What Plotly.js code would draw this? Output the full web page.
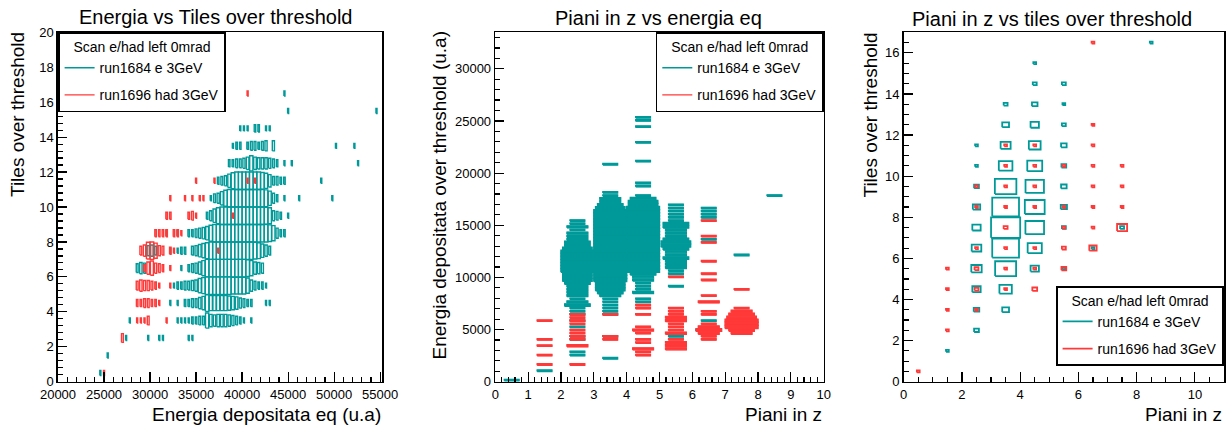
<!DOCTYPE html>
<html><head><meta charset="utf-8">
<script src="https://cdn.plot.ly/plotly-3.0.1.min.js"></script>
<style>html,body{margin:0;padding:0;background:#fff}#chart{width:1231px;height:425px}</style>
</head><body><div id="chart"></div>
<script>
// ---------- Panel 1: Energia vs Tiles over threshold (x: energy bins of 400, y: tiles rows) ----------
const p1_rowsE = [0.5,1.5,2.5,3.5,4.5,5.5,6.5,7.5,8.5,9.5,10.5,11.5,12.5,13.5,14.5,15.5,16.5];
const p1_xE = [
 [24600],
 [25400],
 [27400,29800,31000,31400,34200,34600],
 [27800,33000,33400,33800,34200,34600,35000,35400,35800,36200,36600,37000,37400,37800,38200,38600,39000,39400,39800,40200,41000],
 [32200,33000,33800,34200,34600,35000,35400,35800,36200,36600,37000,37400,37800,38200,38600,39000,39400,39800,40200,40600,41000,42600,43000],
 [32600,33000,33400,33800,34200,34600,35000,35400,35800,36200,36600,37000,37400,37800,38200,38600,39000,39400,39800,40200,40600,41000,41400,41800,42200,42600],
 [28600,29000,29400,33400,34200,34600,35000,35400,35800,36200,36600,37000,37400,37800,38200,38600,39000,39400,39800,40200,40600,41000,41400,41800,42200],
 [29800,30200,30600,32200,33000,33400,33800,34600,35000,35400,35800,36200,36600,37000,37400,37800,38200,38600,39000,39400,39800,40200,40600,41000,41400,41800,42200,42600,43000],
 [31800,33000,34200,34600,35000,35400,35800,36200,36600,37000,37400,37800,38200,38600,39000,39400,39800,40200,40600,41000,41400,41800,42200,42600,43000,43400,43800,44200,44600],
 [36200,36600,37000,37400,37800,38200,38600,39000,39400,39800,40200,40600,41000,41400,41800,42200,42600,43000,43400,43800,44200,45000],
 [36600,37000,37400,37800,38200,38600,39000,39400,39800,40200,40600,41000,41400,41800,42200,42600,43000,43400,43800,44600,46200,49800],
 [37400,37800,38200,38600,39000,39400,39800,40200,40600,41000,41400,41800,42200,42600,43000,43400,43800,44200,44600,48600],
 [38600,39000,39400,39800,40200,40600,41000,41400,41800,42200,42600,43000,43400,43800,44600,45400,52600],
 [39000,39400,39800,40600,41000,41400,41800,42200,42600,43400,50200,52200],
 [39800,40200,40600,41400,41800,42600,43000],
 [45000,54600],
 [44600]
];
const p1_nE = [
 [1],
 [1],
 [1,1,1,1,1,1],
 [1,1,1,1,1,2,2,3,3,9,6,5,6,6,6,5,4,3,2,1,1],
 [1,1,2,2,3,3,5,7,11,9,9,9,9,9,8,7,6,4,3,2,2,1,1],
 [1,2,2,3,3,4,5,8,10,12,12,12,12,12,12,12,11,11,11,11,9,5,3,2,2,1],
 [3,5,4,1,2,3,4,6,9,12,12,12,12,12,12,12,12,12,12,12,11,9,6,5,4],
 [4,5,3,1,1,2,2,3,4,6,8,10,12,12,12,12,12,12,12,12,12,12,12,12,11,10,7,5,3],
 [1,1,2,2,3,4,5,7,10,12,12,12,12,12,12,12,12,12,12,12,12,12,12,12,11,9,4,2,2],
 [2,4,7,10,12,12,12,12,12,12,12,12,12,12,12,12,11,10,4,3,2,1],
 [1,3,4,7,10,12,12,12,12,12,12,12,12,12,12,11,8,4,2,1,1,1],
 [2,3,4,7,10,12,12,12,12,12,12,12,11,9,6,3,3,2,2,1],
 [2,2,3,3,4,6,9,6,5,5,5,4,3,2,1,1,1],
 [1,2,2,2,3,3,2,3,4,4,1,1],
 [1,1,1,2,2,1,1],
 [1,1],
 [1]
];
const p1_rowsH = [0.5,2.5,3.5,4.5,5.5,6.5,7.5,8.5,9.5,10.5,11.5,16.5];
const p1_xH = [
 [25000],
 [27000],
 [28600,29000,29400,29800,31800],
 [28600,29000,29400,29800,30200,30600,31000],
 [28600,29000,29400,29800,30200,30600,31000,32200],
 [29400,29800,30200,30600,31000,31400,32200],
 [29000,29400,29800,30200,30600,31000,31400,32200,32600,37400],
 [30600,31000,31400,31800,32600,33000,33400],
 [31800,32200,34200,34600,35000,39000],
 [32200,33800,34600,35400,35800],
 [35000,37000,40600,41400],
 [40600]
];
const p1_nH = [
 [1],
 [3],
 [1,1,1,3,1],
 [2,2,3,3,2,2,1],
 [3,5,4,4,3,2,1,1],
 [2,6,8,4,3,2,1],
 [3,5,11,12,9,4,3,2,1,1],
 [2,2,2,2,2,2,1],
 [2,2,2,3,1,1],
 [1,1,1,1,1],
 [1,1,1,1],
 [1]
];

// ---------- Panel 2: Piani in z vs energia eq (x: planes, y: energy bins of 300) ----------
const p2_colE = [0.5,1.5,2.5,2.5,3.5,3.5,3.5,3.5,4.5,4.5,4.5,4.5,4.5,5.5,5.5,5.5,6.5,6.5,6.5,6.5,7.5,7.5,7.5,8.5];
const p2_y0E  = [150,1050,2550,4050,2250,4350,6450,20850,7650,18750,21150,22950,24450,4350,9150,10350,4950,5850,13650,15750,5250,6450,12150,17850];
const p2_nE = [
 [1],
 [1],
 [1,1],
 [1,1,0,0,1,0,1,0,1,1,1,3,2,1,2,2,2,2,3,4,4,4,5,5,5,5,5,5,5,4,3,3,2,2,2,1,2,1,1],
 [1],
 [1],
 [1,1,1,1,1,1,2,3,4,4,4,5,5,5,5,5,5,5,5,5,5,5,5,5,5,5,5,5,5,5,5,5,5,5,4,3,2,2,1,1],
 [1],
 [1,1,0,2,1,1,1,2,2,3,5,5,5,5,5,5,5,5,5,5,5,5,5,5,5,5,5,5,5,5,5,4,4,3,1],
 [1,1],
 [1],
 [1],
 [1,0,1,1],
 [1],
 [1],
 [1,1,2,2,2,3,2,2,3,4,4,3,2,2,2,3,3,1,1,1,1,1,1],
 [3,1],
 [1],
 [1],
 [1,1,1,1],
 [1],
 [1],
 [1],
 [1]
];
const p2_colH = [1.5,1.5,1.5,1.5,2.5,2.5,3.5,3.5,4.5,5.5,5.5,6.5,6.5,6.5,6.5,6.5,6.5,6.5,7.5,7.5];
const p2_y0H  = [1650,2550,3450,5850,1650,3450,4050,6450,2550,3150,10050,4050,8250,9750,10350,11550,13350,15450,4650,8850];
const p2_nH = [
 [1],
 [1],
 [1,0,1],
 [1],
 [1],
 [2,0,1,1,1,1,0,1,1,1,1],
 [1,1],
 [1],
 [1,1,2,0,1,1,0,1,2,1,0,0,0,1,0,1,1],
 [2,2,2,1,0,2,1,1,1,2,2,1,1,1],
 [1],
 [1,1,2,3,2,1,0,0,1,1,0,0,2],
 [1],
 [1],
 [1],
 [1],
 [1,0,1],
 [1],
 [2,3,5,5,5,4,3,2,1],
 [1]
];

// ---------- Panel 3: Piani in z vs tiles over threshold ----------
const p3_colE = [1.5,2.5,3.5,4.5,5.5,6.5,7.5,8.5];
const p3_yE = [
 [1.5],
 [2.5,3.5,4.5,5.5,6.5,7.5,8.5,9.5,10.5,11.5],
 [3.5,4.5,5.5,6.5,7.5,8.5,9.5,10.5,11.5,12.5,13.5],
 [5.5,6.5,7.5,8.5,9.5,10.5,11.5,12.5,13.5,14.5,15.5],
 [5.5,7.5,8.5,9.5,10.5,11.5,12.5,13.5,14.5],
 [6.5],
 [7.5],
 [16.5]
];
const p3_nE = [
 [1],
 [3,4,9,14,12,9,7,3,1,1],
 [6,20,57,93,110,93,60,24,13,6,2],
 [9,26,45,51,44,29,18,9,4,2,1],
 [1,2,5,4,3,4,2,1,2],
 [1],
 [2],
 [1]
];
const p3_colH = [0.5,1.5,2.5,3.5,4.5,5.5,6.5,7.5];
const p3_yH = [
 [0.5],
 [2.5,3.5,4.5,5.5],
 [3.5,4.5,5.5,6.5,8.5,9.5],
 [4.5,5.5,6.5,7.5,8.5,9.5,10.5,11.5],
 [4.5,5.5,6.5,8.5,9.5,10.5,11.5],
 [5.5,6.5,7.5,8.5,10.5],
 [6.5,7.5,8.5,9.5,10.5,11.5,12.5,16.5],
 [7.5,8.5,9.5,10.5]
];
const p3_nH = [
 [1],
 [1,1,1,1],
 [1,2,2,1,1,1],
 [1,1,1,2,1,1,1,1],
 [3,1,1,1,1,1,1],
 [3,2,1,1,1],
 [7,1,1,1,1,1,1,1],
 [13,1,1,1]
];

const legendTitle = 'Scan e/had left 0mrad';
const nameE = 'run1684 e 3GeV';
const nameH = 'run1696 had 3GeV';

// ---------- helpers ----------
const TEAL = '#009999', RED = '#ff3838';
const FONT = 'Liberation Sans, Arial, Helvetica, sans-serif';

function cellsRows(rows, xs, ns){const o=[];rows.forEach((r,i)=>xs[i].forEach((x,j)=>o.push([x,r,ns[i][j]])));return o;}
function cellsCols(cols, ys, ns){const o=[];cols.forEach((c,i)=>ys[i].forEach((y,j)=>o.push([c,y,ns[i][j]])));return o;}
function cellsSegs(cols, y0s, ns, bh){const o=[];cols.forEach((c,i)=>ns[i].forEach((n,j)=>{if(n>0)o.push([c,y0s[i]+j*bh,n]);}));return o;}
function maxN(a,b){let m=0;a.concat(b).forEach(c=>{if(c[2]>m)m=c[2];});return m;}
function rects(cells,nmax,bw,bh){
  const X=[],Y=[];
  cells.forEach(([cx,cy,n])=>{
    if(n<=0)return;
    const s=Math.sqrt(n/nmax), hw=bw*s/2, hh=bh*s/2;
    X.push(cx-hw,cx+hw,cx+hw,cx-hw,cx-hw,null);
    Y.push(cy-hh,cy-hh,cy+hh,cy+hh,cy-hh,null);
  });
  return {X,Y};
}

const BW1=400, BH1=1, BW2=1, BH2=300, BW3=1, BH3=1;
const c1E=cellsRows(p1_rowsE,p1_xE,p1_nE), c1H=cellsRows(p1_rowsH,p1_xH,p1_nH);
const c2E=cellsSegs(p2_colE,p2_y0E,p2_nE,BH2), c2H=cellsSegs(p2_colH,p2_y0H,p2_nH,BH2);
const c3E=cellsCols(p3_colE,p3_yE,p3_nE), c3H=cellsCols(p3_colH,p3_yH,p3_nH);
const m1=maxN(c1E,c1H), m2=maxN(c2E,c2H), m3=maxN(c3E,c3H);

const r1E=rects(c1E,m1,BW1,BH1), r1H=rects(c1H,m1,BW1,BH1);
const r2E=rects(c2E,m2,BW2,BH2), r2H=rects(c2H,m2,BW2,BH2);
const r3E=rects(c3E,m3,BW3,BH3), r3H=rects(c3H,m3,BW3,BH3);

const LW1=1.4, LW3=1.8;
const data=[
 {type:'scatter',mode:'lines',x:r1E.X,y:r1E.Y,xaxis:'x',yaxis:'y',line:{color:TEAL,width:LW1},name:nameE,legend:'legend',legendgroup:'e1',connectgaps:false,hoverinfo:'skip'},
 {type:'scatter',mode:'lines',x:r1H.X,y:r1H.Y,xaxis:'x',yaxis:'y',line:{color:RED,width:LW1},name:nameH,legend:'legend',legendgroup:'h1',connectgaps:false,hoverinfo:'skip'},

 {type:'scatter',mode:'lines',x:r2E.X,y:r2E.Y,xaxis:'x2',yaxis:'y2',line:{color:TEAL,width:0.6},fill:'toself',fillcolor:TEAL,showlegend:false,connectgaps:false,hoverinfo:'skip'},
 {type:'scatter',mode:'lines',x:r2E.X,y:r2E.Y,xaxis:'x2',yaxis:'y2',line:{color:TEAL,width:1.4},name:nameE,legend:'legend2',legendgroup:'e2',connectgaps:false,hoverinfo:'skip'},
 {type:'scatter',mode:'lines',x:r2H.X,y:r2H.Y,xaxis:'x2',yaxis:'y2',line:{color:RED,width:0.6},fill:'toself',fillcolor:RED,showlegend:false,connectgaps:false,hoverinfo:'skip'},
 {type:'scatter',mode:'lines',x:r2H.X,y:r2H.Y,xaxis:'x2',yaxis:'y2',line:{color:RED,width:1.4},name:nameH,legend:'legend2',legendgroup:'h2',connectgaps:false,hoverinfo:'skip'},

 {type:'scatter',mode:'lines',x:r3E.X,y:r3E.Y,xaxis:'x3',yaxis:'y3',line:{color:TEAL,width:LW3},name:nameE,legend:'legend3',legendgroup:'e3',connectgaps:false,hoverinfo:'skip'},
 {type:'scatter',mode:'lines',x:r3H.X,y:r3H.Y,xaxis:'x3',yaxis:'y3',line:{color:RED,width:LW3},name:nameH,legend:'legend3',legendgroup:'h3',connectgaps:false,hoverinfo:'skip'}
];

const W=1231,H=425;
const px=v=>v/W, py=v=>1-v/H;
const yDom=[py(381.7),py(32.3)];
function ax(extra){
  return Object.assign({showline:true,linecolor:'#000',linewidth:1.6,mirror:true,ticks:'inside',ticklen:10,tickwidth:1.2,tickcolor:'#000',
    showgrid:false,zeroline:false,tickformat:'d',tickfont:{family:FONT,size:13,color:'#000'},fixedrange:true},extra);
}
function minor(d){return {ticks:'inside',ticklen:5,tickwidth:1.2,tickcolor:'#000',dtick:d,showgrid:false};}
function leg(extra){
  return Object.assign({bgcolor:'#fff',bordercolor:'#000',borderwidth:1.6,font:{family:FONT,size:14,color:'#000'},
    title:{text:legendTitle,side:'top center',font:{family:FONT,size:14,color:'#000'}},itemwidth:30,traceorder:'grouped',tracegroupgap:6},extra);
}
function ann(text,x,y,opt){return Object.assign({text:text,x:x,y:y,xref:'paper',yref:'paper',showarrow:false,font:{family:FONT,size:19,color:'#000'}},opt);}
const TF={family:FONT,size:20,color:'#000'};

const layout={
  width:W,height:H,margin:{l:0,r:0,t:0,b:0},paper_bgcolor:'#fff',plot_bgcolor:'#fff',
  font:{family:FONT,color:'#000'},
  xaxis:ax({domain:[px(58),px(382)],anchor:'y',range:[20000,55200],tick0:20000,dtick:5000,minor:minor(1000)}),
  yaxis:ax({domain:yDom,anchor:'x',range:[0,20],dtick:2,ticklen:9,minor:minor(0.4)}),
  xaxis2:ax({domain:[px(495.3),px(823.7)],anchor:'y2',range:[0,10],dtick:1,minor:minor(0.2)}),
  yaxis2:ax({domain:yDom,anchor:'x2',range:[0,33500],dtick:5000,ticklen:9,minor:minor(1000)}),
  xaxis3:ax({domain:[px(903.7),px(1224)],anchor:'y3',range:[0,11],dtick:2,minor:minor(0.5)}),
  yaxis3:ax({domain:yDom,anchor:'x3',range:[0,17],dtick:2,ticklen:9,minor:minor(0.5)}),
  legend:leg({x:px(58),xanchor:'left',y:py(32.3),yanchor:'top'}),
  legend2:leg({x:px(823.7),xanchor:'right',y:py(32.3),yanchor:'top'}),
  legend3:leg({x:px(1224),xanchor:'right',y:py(366),yanchor:'bottom'}),
  annotations:[
    ann('Energia vs Tiles over threshold',px(215),py(17),{xanchor:'center',yanchor:'middle',font:TF}),
    ann('Piani in z vs energia eq',px(658),py(18),{xanchor:'center',yanchor:'middle',font:TF}),
    ann('Piani in z vs tiles over threshold',px(1052),py(19),{xanchor:'center',yanchor:'middle',font:TF}),
    ann('Energia depositata eq (u.a)',px(383),py(414),{xanchor:'right',yanchor:'middle'}),
    ann('Piani in z',px(824),py(414),{xanchor:'right',yanchor:'middle'}),
    ann('Piani in z',px(1224),py(414),{xanchor:'right',yanchor:'middle'}),
    ann('Tiles over threshold',px(17.5),py(30),{xanchor:'center',yanchor:'top',textangle:-90}),
    ann('Energia depositata over threshold (u.a)',px(438.5),py(30),{xanchor:'center',yanchor:'top',textangle:-90}),
    ann('Tiles over threshold',px(870),py(31),{xanchor:'center',yanchor:'top',textangle:-90})
  ]
};
Plotly.newPlot('chart',data,layout,{displayModeBar:false,staticPlot:true});
</script>
</body></html>
